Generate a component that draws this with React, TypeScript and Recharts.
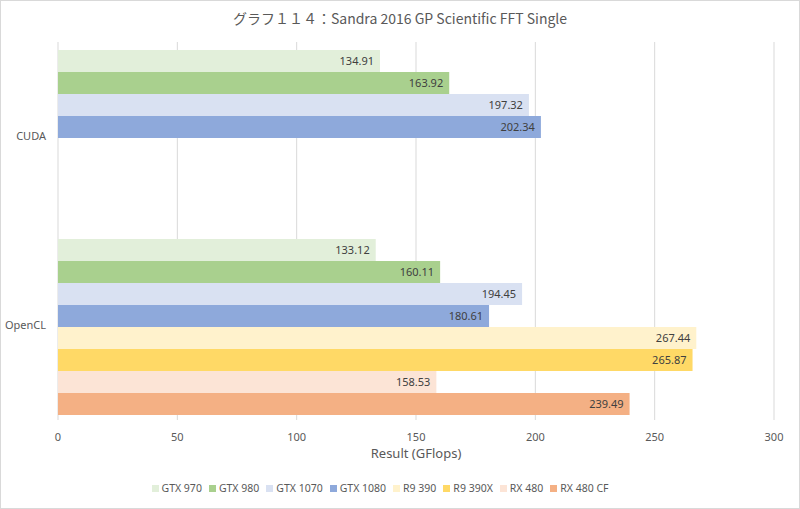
import React from "react";
import { BarChart, Bar, XAxis, YAxis, CartesianGrid, LabelList } from "recharts";

const categories = ["CUDA", "OpenCL"];
const seriesNames = ["GTX 970", "GTX 980", "GTX 1070", "GTX 1080", "R9 390", "R9 390X", "RX 480", "RX 480 CF"];
const seriesColors = ["#E2EFDA", "#A9D08E", "#D9E1F2", "#8EA9DB", "#FFF2CC", "#FFD966", "#FCE4D6", "#F4B084"];
const cudaValues: (number | null)[] = [134.91, 163.92, 197.32, 202.34, null, null, null, null];
const openclValues: (number | null)[] = [133.12, 160.11, 194.45, 180.61, 267.44, 265.87, 158.53, 239.49];
const xTicks = [0, 50, 100, 150, 200, 250, 300];

const valuesByCategory = [cudaValues, openclValues];
const data = categories.map((c, ci) => {
  const row: Record<string, string | number | null> = { name: c };
  seriesNames.forEach((s, si) => {
    row["s" + si] = valuesByCategory[ci][si];
  });
  return row;
});

const font = "'Noto Sans', 'Noto Sans CJK JP', sans-serif";

export default function App() {
  return (
    <div style={{ position: "absolute", left: 0, top: 0, width: 800, height: 509, background: "#fff" }}>
      <div style={{ position: "absolute", left: 0, top: 0, width: 798, height: 507, border: "1px solid #D9D9D9" }} />
      <div style={{ position: "absolute", left: 0, top: 8, width: 800, textAlign: "center", fontFamily: "'Noto Sans CJK JP', sans-serif", fontSize: 14, color: "#595959" }}>
        グラフ１１４：Sandra 2016 GP Scientific FFT Single
      </div>
      <div style={{ position: "absolute", left: 0, top: 0 }}>
        <BarChart
          width={800}
          height={509}
          data={data}
          layout="vertical"
          margin={{ top: 42, right: 26, bottom: 49, left: 0 }}
          barCategoryGap={8}
          barGap={0}
          style={{ fontFamily: font }}
        >
          <CartesianGrid horizontal={false} stroke="#D9D9D9" />
          <XAxis
            type="number"
            domain={[0, 300]}
            ticks={xTicks}
            tickLine={false}
            axisLine={false}
            tick={{ fill: "#595959", fontSize: 11 }}
            tickMargin={7}
            height={40}
            label={{ value: "Result (GFlops)", position: "insideBottom", offset: 2, fill: "#595959", fontSize: 13 }}
          />
          <YAxis
            type="category"
            dataKey="name"
            width={58}
            tickLine={false}
            axisLine={false}
            tickSize={0}
            tickMargin={12}
            tick={{ fill: "#595959", fontSize: 11 }}
          />
          {seriesNames.map((s, i) => (
            <Bar key={s} dataKey={"s" + i} name={s} fill={seriesColors[i]} isAnimationActive={false}>
              <LabelList dataKey={"s" + i} position="insideRight" offset={6} fill="#404040" fontSize={11} />
            </Bar>
          ))}
        </BarChart>
      </div>
      <div
        style={{
          position: "absolute",
          left: 0,
          top: 480,
          width: 760,
          display: "flex",
          justifyContent: "center",
          gap: 7,
          fontFamily: font,
          fontSize: 10.5,
          color: "#595959",
          lineHeight: "16px",
        }}
      >
        {seriesNames.map((s, i) => (
          <div key={s} style={{ display: "flex", alignItems: "center" }}>
            <span style={{ display: "inline-block", width: 7, height: 7, background: seriesColors[i], marginRight: 3 }} />
            <span>{s}</span>
          </div>
        ))}
      </div>
    </div>
  );
}
